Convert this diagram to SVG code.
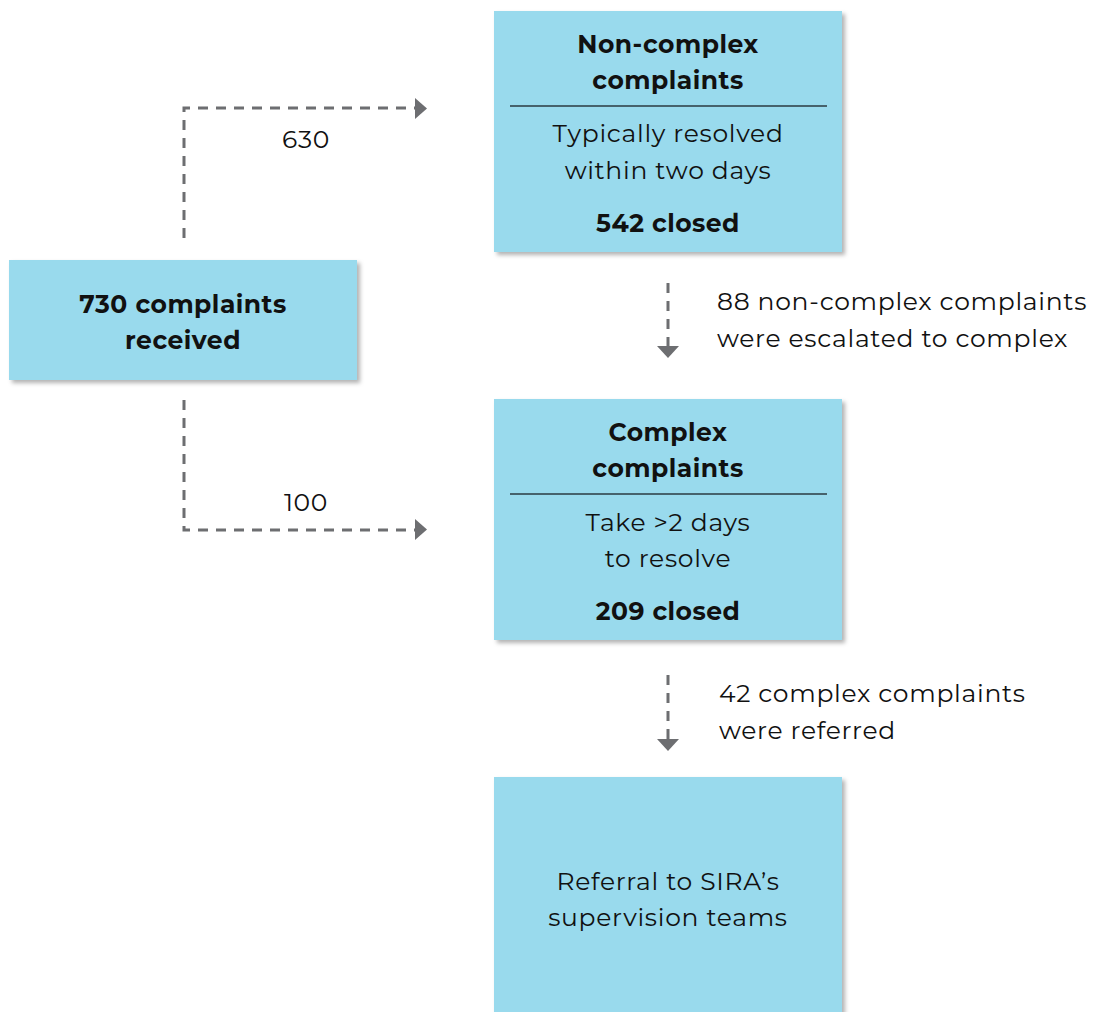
<svg xmlns="http://www.w3.org/2000/svg" width="1094" height="1012" viewBox="0 0 1094 1012">
<style>
.box{fill:#99DAED;filter:url(#sh)}
.t{font-family:"Montserrat","Noto Sans","Open Sans",sans-serif;font-size:25px;fill:#111;text-anchor:middle;letter-spacing:0.7px}
.b{font-weight:bold;letter-spacing:0.5px}
.l{font-family:"Montserrat","Noto Sans","Open Sans",sans-serif;font-size:25px;fill:#111;letter-spacing:0.7px}
.c{fill:none;stroke:#6D6E71;stroke-width:3;stroke-dasharray:10 8}
.rule{stroke:#2B3A40;stroke-width:1.5}
.ah{fill:#6D6E71}
</style>
<defs>
<filter id="sh" x="-5%" y="-5%" width="115%" height="115%">
<feDropShadow dx="3" dy="3" stdDeviation="2" flood-color="#000" flood-opacity="0.3"/>
</filter>
</defs>
<rect width="1094" height="1012" fill="#fff"/>
<g id="connectors">
<path class="c" d="M184,238 V108 H416"/>
<polygon class="ah" points="415,98 427,108.5 415,119"/>
<text class="l" x="306" y="148" text-anchor="middle">630</text>
<path class="c" d="M184,400 V530 H416"/>
<polygon class="ah" points="415,519 427,529.5 415,540"/>
<text class="l" x="306" y="511" text-anchor="middle">100</text>
<path class="c" d="M668,283 V346"/>
<polygon class="ah" points="657,346 679,346 668,358"/>
<text class="l" x="717" y="310">88 non-complex complaints</text>
<text class="l" x="717" y="347">were escalated to complex</text>
<path class="c" d="M668,675 V739"/>
<polygon class="ah" points="657,739 679,739 668,751"/>
<text class="l" x="719" y="702">42 complex complaints</text>
<text class="l" x="719" y="739">were referred</text>
</g>
<g id="received">
<rect class="box" x="9" y="260" width="348" height="120"/>
<text class="t b" x="183" y="313">730 complaints</text>
<text class="t b" x="183" y="349">received</text>
</g>
<g id="noncomplex">
<rect class="box" x="494" y="11" width="348" height="241"/>
<text class="t b" x="668" y="53">Non-complex</text>
<text class="t b" x="668" y="89">complaints</text>
<line class="rule" x1="510" y1="106" x2="827" y2="106"/>
<text class="t" x="668" y="142">Typically resolved</text>
<text class="t" x="668" y="179">within two days</text>
<text class="t b" x="668" y="232">542 closed</text>
</g>
<g id="complex">
<rect class="box" x="494" y="399" width="348" height="241"/>
<text class="t b" x="668" y="441">Complex</text>
<text class="t b" x="668" y="477">complaints</text>
<line class="rule" x1="510" y1="494" x2="827" y2="494"/>
<text class="t" x="668" y="531">Take &gt;2 days</text>
<text class="t" x="668" y="567">to resolve</text>
<text class="t b" x="668" y="620">209 closed</text>
</g>
<g id="referral">
<rect class="box" x="494" y="777" width="348" height="240"/>
<text class="t" x="668" y="890">Referral to SIRA’s</text>
<text class="t" x="668" y="926">supervision teams</text>
</g>
</svg>
